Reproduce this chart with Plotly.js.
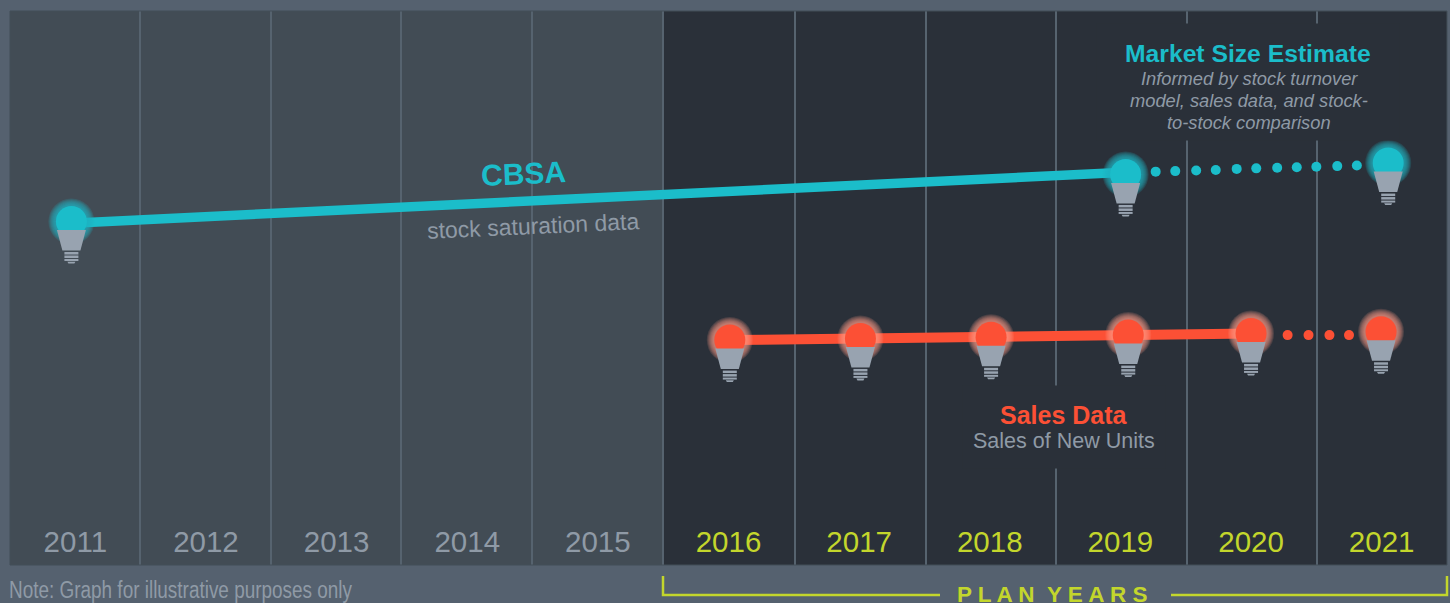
<!DOCTYPE html>
<html><head><meta charset="utf-8">
<script src="https://cdn.plot.ly/plotly-3.0.1.min.js"></script>
<style>html,body{margin:0;padding:0;background:#55616f;overflow:hidden}</style></head>
<body><div id="chart" style="width:1450px;height:603px"></div>
<script>
// Data: x = year position, y = relative level (0-100 of the plot height)
const years = [2011,2012,2013,2014,2015,2016,2017,2018,2019,2020,2021];
const planYears = [2016,2017,2018,2019,2020,2021];
const columnEdges = [2011.495,2012.498,2013.493,2014.496,2015.502,2016.507,2017.51,2018.507,2019.508,2020.503];
const cbsaBulbX = [2010.97, 2019.04, 2021.05];
const cbsaBulbY = [62.0, 70.5, 72.55];
const cbsaLineX = [2010.97, 2019.04];
const cbsaLineY = [61.7, 70.9];
const estimateDotsX = [2019.27,2019.42,2019.58,2019.73,2019.89,2020.04,2020.20,2020.35,2020.50,2020.66,2020.81];
const estimateDotsY = [71.0,71.1,71.2,71.3,71.5,71.6,71.7,71.8,71.9,72.0,72.1];
const salesBulbX = [2016.01,2017.01,2018.01,2019.06,2020.00,2020.995];
const salesBulbY = [40.6,40.9,41.1,41.5,41.8,42.1];
const salesLineX = [2016.01,2017.01,2018.01,2019.06,2020.00];
const salesLineY = [40.6,40.9,41.1,41.5,41.8];
const salesDotsX = [2020.28,2020.44,2020.60,2020.75];
const salesDotsY = [41.5,41.5,41.5,41.5];

const TEAL='#1bbdca', RED='#fc5035', LIME='#c3d62c', GREY='#8f9aa6', BULB='#98a3b0', SUB='#8f9aa6';
const PANEL_L='#424c55', PANEL_R='#2a3039', GRID='#56636f', BG='#55616f', EDGE='#434e59';
const FONT='Liberation Sans, Arial, sans-serif';

const L=10,R=1447,T=11,B=565;
const px=v=>(v-L)/(R-L), py=v=>(B-v)/(B-T);

function glow(x,y,c,o){
  return [46,44,42,40,38,36,34].map(s=>({x,y,mode:'markers',type:'scatter',hoverinfo:'skip',
    marker:{size:s,color:c,opacity:o,line:{width:0}}}));
}
function head(x,y,c){return {x,y,mode:'markers',type:'scatter',hoverinfo:'skip',marker:{size:31,color:c,line:{width:0}}};}
function line(x,y,c,w){return {x,y,mode:'lines',type:'scatter',hoverinfo:'skip',line:{color:c,width:w}};}
function dots(x,y,c,s){return {x,y,mode:'markers',type:'scatter',hoverinfo:'skip',marker:{size:s,color:c,line:{width:0}}};}

const data=[
  line(cbsaLineX,cbsaLineY,TEAL,9.5),
  line(salesLineX,salesLineY,RED,10),
  dots(estimateDotsX,estimateDotsY,TEAL,10),
  dots(salesDotsX,salesDotsY,RED,10),
  ...glow(cbsaBulbX,cbsaBulbY,'#1fb4c0',0.18),
  ...glow(salesBulbX,salesBulbY,'#ff9a88',0.16),
  head(cbsaBulbX,cbsaBulbY,TEAL),
  head(salesBulbX,salesBulbY,RED)
];

// Bulb base drawn as pixel-sized paths anchored to each data point
const basePath='M-14.5,-8.5 L14.5,-8.5 L9,-29 L-9,-29 Z';
const threadPaths=['M-7,-30.5 L7,-30.5 L7,-33 L-7,-33 Z','M-7,-34 L7,-34 L7,-36.5 L-7,-36.5 Z','M-7,-37.5 L7,-37.5 L7,-39.5 L-7,-39.5 Z','M-4,-40.2 L4,-40.2 L3,-42 L-3,-42 Z'];
function bulbShapes(x,y){
  const out=[];
  x.forEach((xv,i)=>{
    [basePath,...threadPaths].forEach(p=>out.push({type:'path',layer:'above',xref:'x',yref:'y',xsizemode:'pixel',ysizemode:'pixel',xanchor:xv,yanchor:y[i],path:p,fillcolor:BULB,line:{width:0}}));
  });
  return out;
}
const bracket={type:'path',xref:'paper',yref:'paper',layer:'above',line:{color:LIME,width:2.5},
  path:`M${px(663)},${py(576)} L${px(663)},${py(595)} L${px(940)},${py(595)}`};
const bracket2={type:'path',xref:'paper',yref:'paper',layer:'above',line:{color:LIME,width:2.5},
  path:`M${px(1171)},${py(595)} L${px(1447)},${py(595)} L${px(1447)},${py(576)}`};

const shapes=[
  {type:'rect',xref:'x',yref:'paper',x0:2010.5,x1:2015.5,y0:0,y1:1,fillcolor:PANEL_L,line:{width:0},layer:'below'},
  {type:'rect',xref:'x',yref:'paper',x0:2015.5,x1:2021.5,y0:0,y1:1,fillcolor:PANEL_R,line:{width:0},layer:'below'},
  {type:'rect',xref:'paper',yref:'paper',x0:0,x1:1,y0:0,y1:1,line:{color:EDGE,width:1},layer:'above'},
  bracket,bracket2,...bulbShapes(cbsaBulbX,cbsaBulbY),...bulbShapes(salesBulbX,salesBulbY)
];

function ann(x,y,text,size,color,o){
  return Object.assign({xref:'paper',yref:'paper',x:px(x),y:py(y),text,showarrow:false,xanchor:'center',yanchor:'middle',
    font:{family:FONT,size,color}},o||{});
}
const annotations=[
  ann(1248,82,'&nbsp;',10,PANEL_R,{bgcolor:PANEL_R,width:300,height:114}),
  ann(1064,427,'&nbsp;',10,PANEL_R,{bgcolor:PANEL_R,width:200,height:80}),
  ann(523,173,'<b>CBSA</b>',30,TEAL,{textangle:-2.6}),
  ann(533,226,'stock saturation data',23,GREY,{textangle:-2.6}),
  ann(1248,54,'<b>Market Size Estimate</b>',24.7,TEAL),
  ann(1249,79,'<i>Informed by stock turnover</i>',18.3,SUB),
  ann(1249,101,'<i>model, sales data, and stock-</i>',18.3,SUB),
  ann(1249,123,'<i>to-stock comparison</i>',18.3,SUB),
  ann(1064,415,'<b>Sales Data</b>',25,RED),
  ann(1064,441,'Sales of New Units',21.5,GREY),
  ann(7,590,'Note: Graph for illustrative purposes only',23,GREY,{xanchor:'left'}),
  ann(1052,594,'<b>P L A N &nbsp;Y E A R S</b>',22.5,LIME)
];

const layout={
  width:1450,height:603,margin:{l:L,r:1450-R,t:T,b:603-B,pad:0},
  paper_bgcolor:BG,plot_bgcolor:PANEL_L,showlegend:false,
  xaxis:{range:[2010.5,2021.5],tickmode:'array',tickvals:years,
    ticktext:years.map(y=>planYears.includes(y)?`<span style="color:${LIME}">${y}</span>`:`${y}`),
    ticklabelposition:'inside',ticklabelstandoff:4,ticks:'',showgrid:false,zeroline:false,showline:false,
    tickfont:{family:FONT,size:29.5,color:GREY},
    minor:{tickmode:'array',tickvals:columnEdges,showgrid:true,gridcolor:GRID,gridwidth:2,ticks:''}},
  yaxis:{range:[0,100],visible:false,showgrid:false,zeroline:false,fixedrange:true},
  shapes,annotations
};
Plotly.newPlot('chart',data,layout,{staticPlot:true,displayModeBar:false}).then(()=>{
  // The note is set in a condensed face: fit the real text to its width, keeping its left edge
  document.querySelectorAll('.annotation-text').forEach(t=>{
    if(t.textContent.startsWith('Note:')){
      const left=t.getBBox().x;
      t.style.textAnchor='start';
      t.setAttribute('x',left);
      t.setAttribute('textLength','343');
      t.setAttribute('lengthAdjust','spacingAndGlyphs');
    }
  });
});
</script></body></html>
